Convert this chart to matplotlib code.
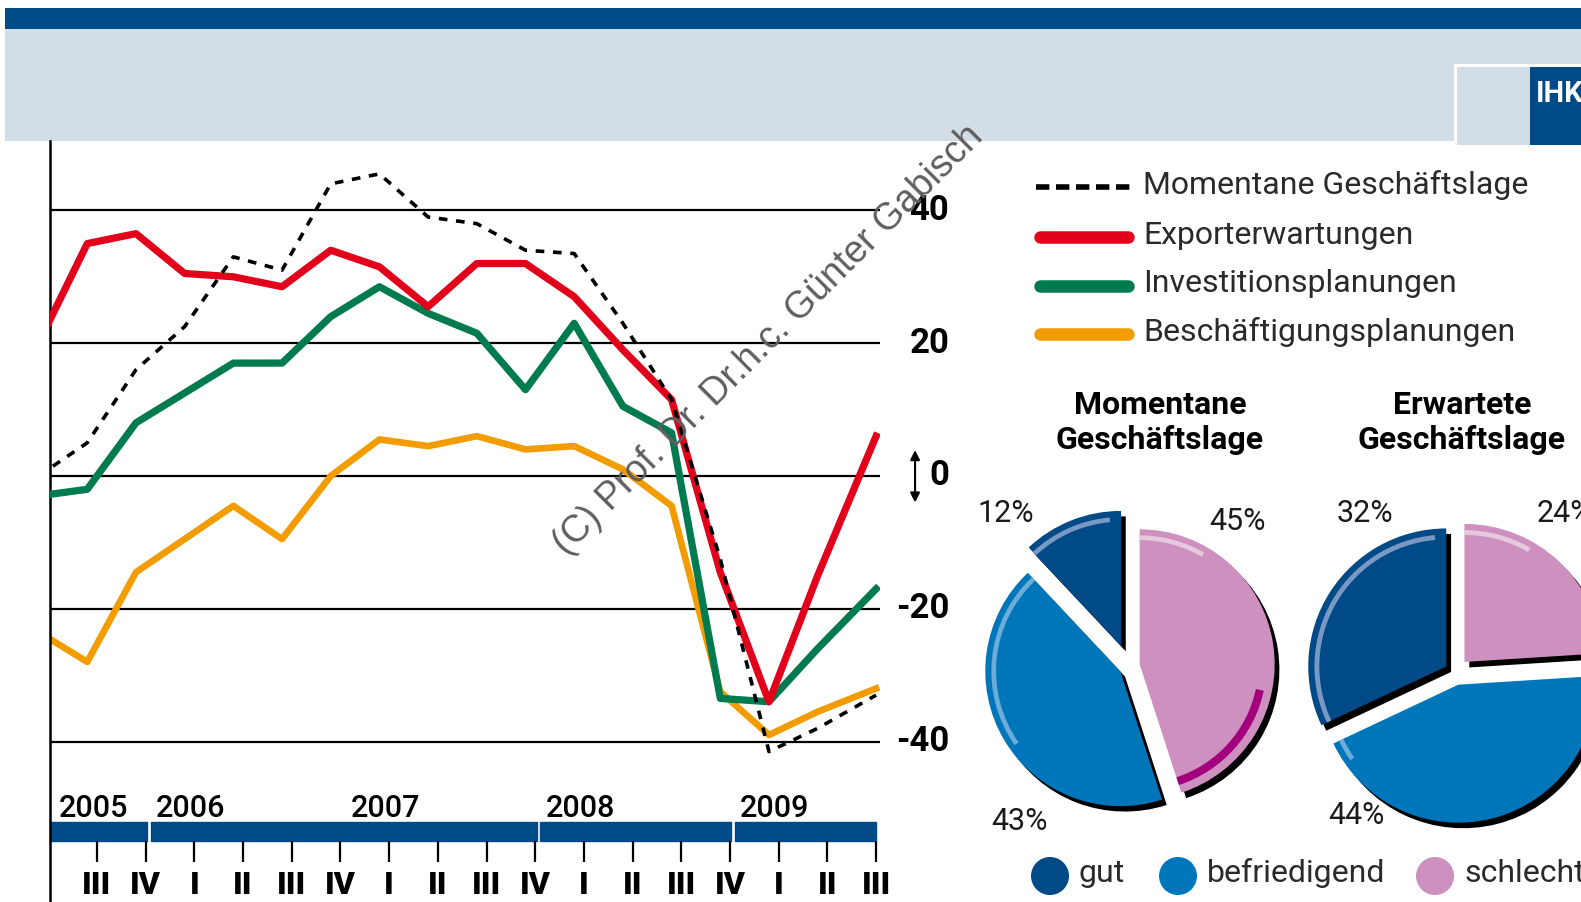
import matplotlib
matplotlib.use('Agg')
import matplotlib.pyplot as plt
from matplotlib.patches import Rectangle, Wedge, Circle
import numpy as np

plt.rcParams['font.family'] = ['Roboto', 'DejaVu Sans']

# quarters on the axis, 2005 III .. 2009 III
quarters = ['III', 'IV', 'I', 'II', 'III', 'IV', 'I', 'II', 'III', 'IV',
            'I', 'II', 'III', 'IV', 'I', 'II', 'III']
years = ['2005', '2006', '2007', '2008', '2009']
year_first_q = [0, 2, 6, 10, 14]
bar_breaks = [1, 9, 13]

# balances (percentage points); first value lies just left of the axis
momentan = [0, 5, 16, 22.5, 33, 31, 44, 45.5, 39, 38, 34, 33.5, 23, 11.5, -12.5, -41.5, -38, -33]
export = [20, 35, 36.5, 30.5, 30, 28.5, 34, 31.5, 25.5, 32, 32, 27, 19, 11.5, -14.5, -34, -15, 6]
invest = [-3, -2, 8, 12.5, 17, 17, 24, 28.5, 24.5, 21.5, 13, 23, 10.5, 6.5, -33.5, -34, -26, -17]
beschaeft = [-23.5, -28, -14.5, -9.5, -4.5, -9.5, 0, 5.5, 4.5, 6, 4, 4.5, 1, -4.5, -32.5, -39, -35.5, -32]

series_names = ['Momentane Geschäftslage', 'Exporterwartungen',
                'Investitionsplanungen', 'Beschäftigungsplanungen']
y_ticks = [40, 20, 0, -20, -40]

pie_categories = ['gut', 'befriedigend', 'schlecht']
pie_titles = ['Momentane\nGeschäftslage', 'Erwartete\nGeschäftslage']
pie_now = [12, 43, 45]
pie_expected = [32, 44, 24]

navy = '#004A87'
band = '#D3DDE6'
red = '#E2001A'
green = '#007B4F'
orange = '#F39C00'
pie_colors = ['#004A87', '#0076BA', '#CD90BF']
pie_light = ['#8FA8D0', '#7FB6DE', '#EBD3E5']

W, H = 1581, 902
fig = plt.figure(figsize=(W / 100, H / 100), dpi=100)


def box(x0, y0, x1, y1):
    # pixel box measured from the top-left -> figure fraction rect
    return [x0 / W, 1 - y1 / H, (x1 - x0) / W, (y1 - y0) / H]


# background canvas in pixel units
bg = fig.add_axes([0, 0, 1, 1], zorder=0)
bg.set_xlim(0, W)
bg.set_ylim(H, 0)
bg.axis('off')
bg.add_patch(Rectangle((5, 8), W, 21, color=navy, lw=0))
bg.add_patch(Rectangle((5, 29), W, 112, color=band, lw=0))
bg.add_patch(Rectangle((1454, 64), 130, 81, color='white', lw=0))
bg.add_patch(Rectangle((1457, 67), 76, 78, color=band, lw=0))
bg.add_patch(Rectangle((1530, 67), 60, 78, color=navy, lw=0))
bg.text(1536, 94, 'IHK', color='white', fontsize=21, fontweight='bold', va='center')

# line chart
ax = fig.add_axes(box(50, 141, 880, 902), zorder=1)
ax.patch.set_visible(False)
for s in ['top', 'right', 'bottom']:
    ax.spines[s].set_visible(False)
ax.spines['left'].set_linewidth(1.8)
ax.set_xticks([])
ax.set_yticks([])

for v in y_ticks:
    ax.axhline(v, color='black', lw=1.6, zorder=1)

x = np.arange(-1, 17) - 0.2
x[-1] = 16
ax.plot(x, beschaeft, color=orange, lw=4.8, zorder=2)
ax.plot(x, invest, color=green, lw=5.2, zorder=3)
ax.plot(x, export, color=red, lw=5.2, zorder=4)
ax.plot(x, momentan, color='black', lw=2.6, dashes=(2.4, 2.4), zorder=5)

ax.set_xlim(-0.965, 16.08)
ax.set_ylim(-64.16, 50.45)

# y labels on the right
for v in y_ticks:
    ax.text(17.5, v, str(v), ha='right', va='center', fontsize=25,
            fontweight='bold', clip_on=False)
ax.annotate('', xy=(16.8, 3.9), xytext=(16.8, -4.0),
            arrowprops=dict(arrowstyle='<|-|>', color='black', lw=1.5,
                            mutation_scale=14, shrinkA=0, shrinkB=0),
            annotation_clip=False)

# year bar, quarter ticks and labels
edges = [-0.965]
for b in bar_breaks:
    edges += [b + 0.03, b + 0.1]
edges.append(16.0)
segs = [(edges[k], edges[k + 1] - edges[k]) for k in range(0, len(edges), 2)]
ax.broken_barh(segs, (-55.0, 2.9), color=navy, clip_on=False)
ax.vlines(range(len(quarters)), -58.2, -55.0, color='black', lw=1.6, clip_on=False)
for i, q in enumerate(quarters):
    ax.text(i, -59.4, q, ha='center', va='top', fontsize=23, fontweight='heavy',
            clip_on=False)
for yr, i in zip(years, year_first_q):
    ax.text(i - 0.08, -51.4, yr, ha='center', va='baseline', fontsize=22,
            fontweight='medium', clip_on=False)

# legend of the line chart
rows = [187, 237, 286, 334]
bg.plot([1036, 1131], [rows[0]] * 2, color='black', lw=4, dashes=(2.4, 1.2))
for yy, c in zip(rows[1:], [red, green, orange]):
    bg.plot([1040, 1128], [yy, yy], color=c, lw=9, solid_capstyle='round')
for yy, name in zip(rows, series_names):
    bg.text(1143, yy - 2, name, va='center', fontsize=23, color='#2a2a2a')

# pie charts
pie_specs = [(1129, 666, 135, pie_now, [0.16, 0.075, 0.08]),
             (1455, 672, 138, pie_expected, [0.075, 0.095, 0.1])]
for (cx, cy, r, vals, expl), title, tx in zip(pie_specs, pie_titles, [1160, 1462]):
    s = 2.5 * r
    pax = fig.add_axes(box(cx - s / 2, cy - s / 2, cx + s / 2, cy + s / 2), zorder=1)
    pax.pie(vals, explode=expl, startangle=90, colors=['black'] * 3,
            center=(0.035, -0.04), wedgeprops=dict(lw=0))
    wedges, _ = pax.pie(vals, explode=expl, startangle=90, colors=pie_colors,
                        wedgeprops=dict(lw=0))
    for k, w in enumerate(wedges):
        a, b = max(w.theta1, 95), min(w.theta2, 215)
        if k == 2 and w.theta2 > 360:
            a, b = max(w.theta1 - 360, 60), min(w.theta2 - 360, 90)
        if b > a:
            pax.add_patch(Wedge(w.center, 0.955, a, b, width=0.035,
                                color=pie_light[k], lw=0, alpha=0.85))
        if k == 2:
            a, b = max(w.theta1, 288), min(w.theta2, 348)
            if b > a:
                pax.add_patch(Wedge(w.center, 0.94, a, b, width=0.06,
                                    color='#A3007D', lw=0))
    pax.set_xlim(-1.25, 1.25)
    pax.set_ylim(-1.25, 1.25)
    pax.axis('off')
    t1, t2 = title.split('\n')
    bg.text(tx, 405, t1, ha='center', va='center', fontsize=23, fontweight='bold')
    bg.text(tx, 440, t2, ha='center', va='center', fontsize=23, fontweight='bold')

# percentage labels
pct_pos = [[(1006, 514), (1020, 822), (1238, 522)],
           [(1365, 513), (1356, 815), (1565, 513)]]
for vals, pos in zip([pie_now, pie_expected], pct_pos):
    for v, (px, py) in zip(vals, pos):
        bg.text(px, py, f'{v}%', ha='center', va='center', fontsize=22, color='#1a1a1a')

# pie legend
for (cxl, tx), c, lab in zip([(1050, 1079), (1178, 1207), (1435, 1465)],
                             pie_colors, pie_categories):
    bg.add_patch(Circle((cxl, 876), 19, color=c, lw=0))
    bg.text(tx, 873, lab, va='center', fontsize=23, color='#2a2a2a')

# watermark
fig.text(768 / W, 1 - 340 / H, '(C) Prof. Dr. Dr.h.c. Günter Gabisch', rotation=45,
         rotation_mode='anchor', ha='center', va='center', fontsize=27,
         color='#5e5e5e', family=['Liberation Sans', 'DejaVu Sans'], zorder=10)

fig.savefig('out.png', dpi=100)
